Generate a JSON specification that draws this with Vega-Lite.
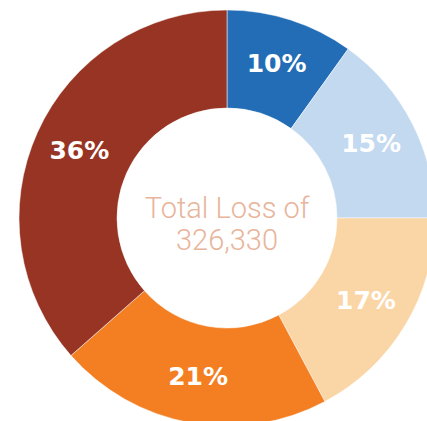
{
  "$schema": "https://vega.github.io/schema/vega-lite/v6.json",
  "width": 416,
  "height": 416,
  "padding": {"left": 18, "top": 9, "right": 0, "bottom": 0},
  "background": "white",
  "config": {"view": {"stroke": null}},
  "data": {
    "values": [
      {"seg": "A", "i": 1, "value": 9.9, "label": "10%"},
      {"seg": "B", "i": 2, "value": 15.1, "label": "15%"},
      {"seg": "C", "i": 3, "value": 17.2, "label": "17%"},
      {"seg": "D", "i": 4, "value": 21.3, "label": "21%"},
      {"seg": "E", "i": 5, "value": 36.5, "label": "36%"}
    ]
  },
  "layer": [
    {
      "mark": {"type": "arc", "outerRadius": 208, "innerRadius": 110, "stroke": "white", "strokeWidth": 0.5},
      "encoding": {
        "theta": {"field": "value", "type": "quantitative", "stack": true},
        "order": {"field": "i", "type": "quantitative"},
        "color": {
          "field": "seg", "type": "nominal", "legend": null,
          "scale": {"domain": ["A", "B", "C", "D", "E"], "range": ["#226db5", "#c3d9f0", "#fad5a5", "#f47f22", "#973423"]}
        }
      }
    },
    {
      "mark": {"type": "text", "radius": 162, "fontSize": 25, "fontWeight": "bold", "font": "DejaVu Sans", "fill": "white", "baseline": "middle", "align": "center"},
      "encoding": {
        "theta": {"field": "value", "type": "quantitative", "stack": true},
        "order": {"field": "i", "type": "quantitative"},
        "text": {"field": "label", "type": "nominal"}
      }
    },
    {
      "data": {"values": [{"t": "x"}]},
      "mark": {"type": "text", "text": ["Total Loss of", "326,330"], "font": "Roboto", "fontWeight": 300, "fontSize": 29, "lineHeight": 32, "fill": "#e8b49a", "align": "center", "baseline": "alphabetic"},
      "encoding": {}
    }
  ]
}
